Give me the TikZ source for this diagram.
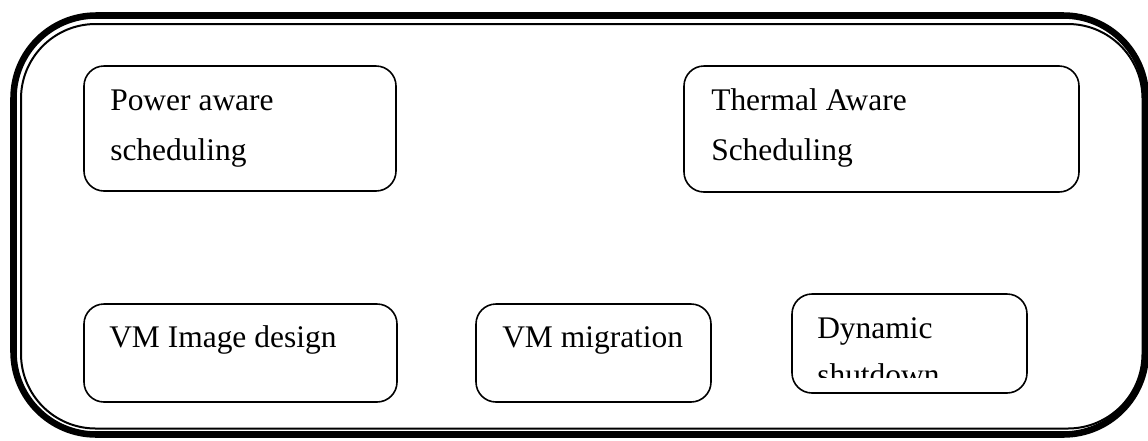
\documentclass[tikz,border=0pt]{standalone}
\usepackage{fontspec}
\setmainfont{Liberation Serif}
\begin{document}
\begin{tikzpicture}[x=0.75pt,y=-0.75pt,
  box/.style={draw=black,line width=1.2pt,rounded corners=15pt,inner sep=0pt},
  lbl/.style={anchor=base west,inner sep=0pt,font=\fontsize{23.6}{28}\selectfont}]
\useasboundingbox (0,0) rectangle (1148,440);
% outer double frame
\draw[line width=4.9pt,rounded corners=62pt] (13.5,15.5) rectangle (1146,434.5);
\draw[line width=1.5pt,rounded corners=56pt] (21,24) rectangle (1142.5,428.5);
% boxes
\node[box,minimum width=234pt,minimum height=93.75pt] (pa) at (240,128.5) {};
\node[box,minimum width=296.25pt,minimum height=94.5pt] (ta) at (881.5,129) {};
\node[box,minimum width=234.75pt,minimum height=73.5pt] (vi) at (240.5,353) {};
\node[box,minimum width=176.25pt,minimum height=73.5pt] (vm) at (593.5,353) {};
\node[box,minimum width=176.25pt,minimum height=74.25pt] (ds) at (909.5,343.5) {};
% texts
\node[lbl] (pa1) at (110,110) {Power aware};
\node[lbl] (pa2) at (110,160) {scheduling};
\node[lbl] (ta1) at (711,110) {Thermal Aware};
\node[lbl] (ta2) at (711,160) {Scheduling};
\node[lbl] (vi1) at (109,347) {VM Image design};
\node[lbl] (vm1) at (502,347) {VM migration};
\node[lbl] (ds1) at (817,338) {Dynamic};
\begin{scope}
\clip (792,294) rectangle (1027,377);
\node[lbl] (ds2) at (817,385) {shutdown};
\end{scope}
\end{tikzpicture}
\end{document}
